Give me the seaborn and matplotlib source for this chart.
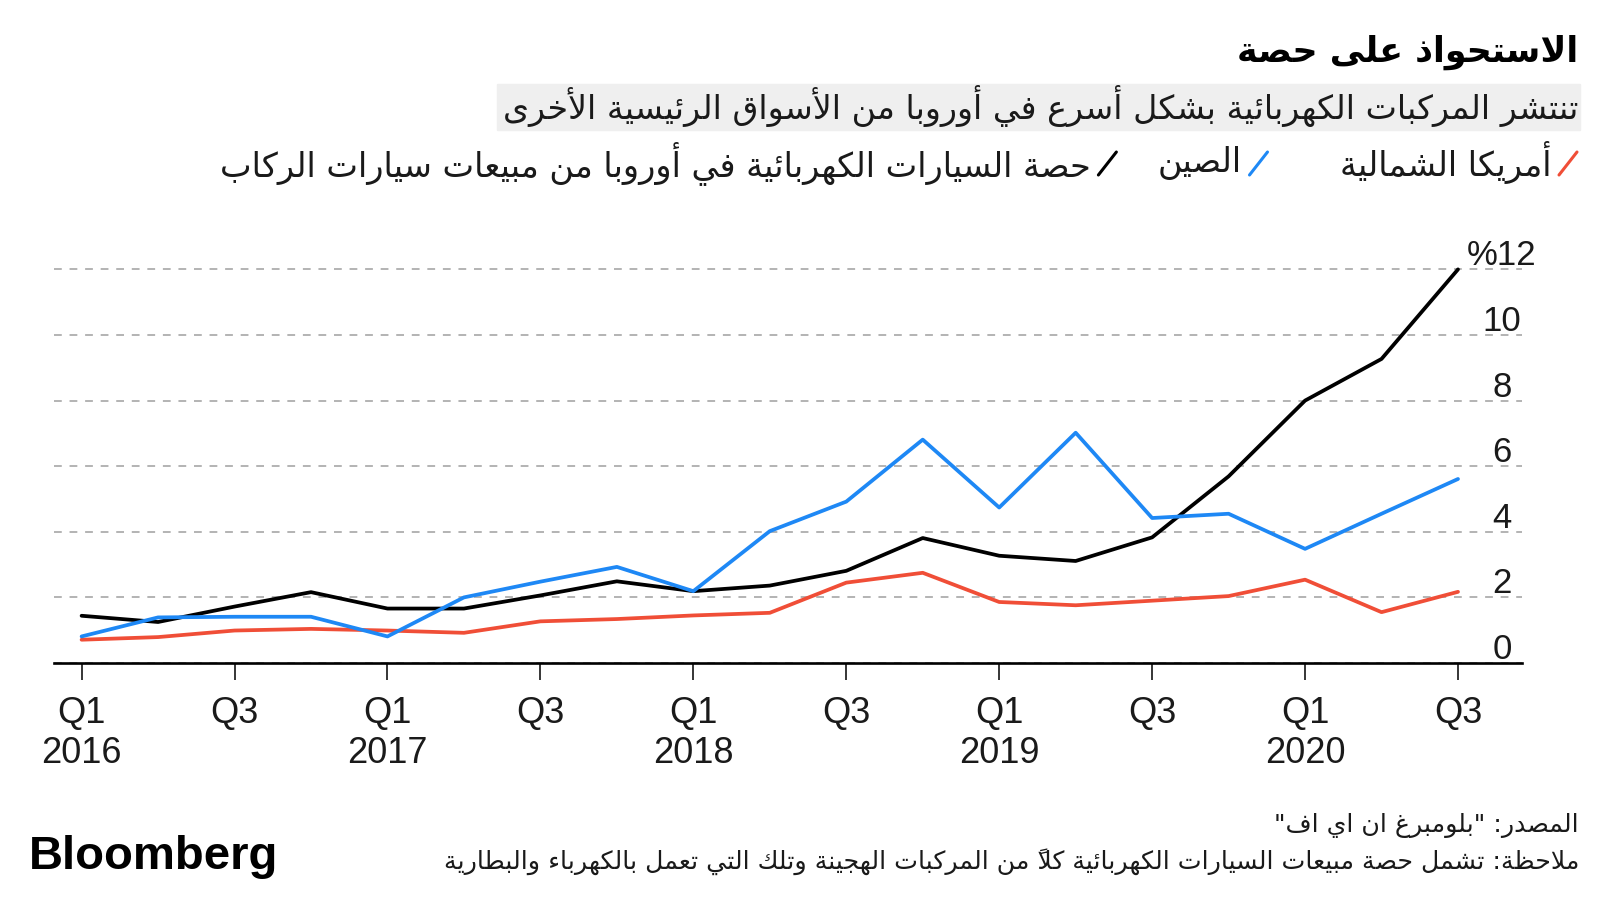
import matplotlib
matplotlib.use("Agg")
import matplotlib.pyplot as plt
import matplotlib.transforms as mtransforms
from matplotlib.lines import Line2D
from matplotlib.patches import Rectangle
import pandas as pd
import seaborn as sns

# ---------------- data ----------------
quarters = ["Q1 2016", "Q2 2016", "Q3 2016", "Q4 2016",
            "Q1 2017", "Q2 2017", "Q3 2017", "Q4 2017",
            "Q1 2018", "Q2 2018", "Q3 2018", "Q4 2018",
            "Q1 2019", "Q2 2019", "Q3 2019", "Q4 2019",
            "Q1 2020", "Q2 2020", "Q3 2020"]
europe = [1.44, 1.25, 1.72, 2.16, 1.66, 1.66, 2.06, 2.49, 2.19, 2.36,
          2.81, 3.81, 3.27, 3.11, 3.83, 5.69, 8.0, 9.27, 12.0]
china = [0.81, 1.39, 1.41, 1.41, 0.81, 2.0, 2.48, 2.93, 2.19, 4.02,
         4.92, 6.81, 4.74, 7.02, 4.42, 4.55, 3.48, 4.55, 5.61]
north_america = [0.71, 0.79, 0.99, 1.04, 0.99, 0.92, 1.27, 1.34, 1.45, 1.53,
                 2.45, 2.75, 1.86, 1.76, 1.9, 2.04, 2.54, 1.55, 2.17]
y_ticks = [0, 2, 4, 6, 8, 10, 12]

name_na = "أمريكا الشمالية"
name_cn = "الصين"
name_eu = "حصة السيارات الكهربائية في أوروبا من مبيعات سيارات الركاب"
colors = {name_na: "#f04e37", name_cn: "#1e88f5", name_eu: "#000000"}

title = "الاستحواذ على حصة"
subtitle = "تنتشر المركبات الكهربائية بشكل أسرع في أوروبا من الأسواق الرئيسية الأخرى"
source = 'المصدر: "بلومبرغ ان اي اف"'
note = "ملاحظة: تشمل حصة مبيعات السيارات الكهربائية كلاً من المركبات الهجينة وتلك التي تعمل بالكهرباء والبطارية"

# ---------------- minimal arabic shaping (no raqm in matplotlib) ----------------
# letter -> (first presentation form, number of forms): iso, fin, ini, med
AR_FORMS = {
    'ء': (0xFE80, 1), 'آ': (0xFE81, 2), 'أ': (0xFE83, 2), 'ؤ': (0xFE85, 2),
    'إ': (0xFE87, 2), 'ئ': (0xFE89, 4), 'ا': (0xFE8D, 2), 'ب': (0xFE8F, 4),
    'ة': (0xFE93, 2), 'ت': (0xFE95, 4), 'ث': (0xFE99, 4), 'ج': (0xFE9D, 4),
    'ح': (0xFEA1, 4), 'خ': (0xFEA5, 4), 'د': (0xFEA9, 2), 'ذ': (0xFEAB, 2),
    'ر': (0xFEAD, 2), 'ز': (0xFEAF, 2), 'س': (0xFEB1, 4), 'ش': (0xFEB5, 4),
    'ص': (0xFEB9, 4), 'ض': (0xFEBD, 4), 'ط': (0xFEC1, 4), 'ظ': (0xFEC5, 4),
    'ع': (0xFEC9, 4), 'غ': (0xFECD, 4), 'ف': (0xFED1, 4), 'ق': (0xFED5, 4),
    'ك': (0xFED9, 4), 'ل': (0xFEDD, 4), 'م': (0xFEE1, 4), 'ن': (0xFEE5, 4),
    'ه': (0xFEE9, 4), 'و': (0xFEED, 2), 'ى': (0xFEEF, 2), 'ي': (0xFEF1, 4),
}
LAM_ALEF = {'آ': 0xFEF5, 'أ': 0xFEF7, 'إ': 0xFEF9, 'ا': 0xFEFB}
MARKS = set(chr(c) for c in range(0x064B, 0x0653))


def join_type(b):
    if b.startswith('LA'):
        return 2
    if b in AR_FORMS:
        return AR_FORMS[b][1]
    return 0


def shape(text):
    units = []
    for ch in text:
        if ch in MARKS and units:
            units[-1][1] += ch
        else:
            units.append([ch, ''])
    merged = []
    k = 0
    while k < len(units):
        b, m = units[k]
        if b == 'ل' and k + 1 < len(units) and units[k + 1][0] in LAM_ALEF:
            merged.append(['LA' + units[k + 1][0], m + units[k + 1][1]])
            k += 2
        else:
            merged.append([b, m])
            k += 1
    res = []
    for k, (b, m) in enumerate(merged):
        t = join_type(b)
        if t == 0:
            res.append(m + b)
            continue
        prev_t = join_type(merged[k - 1][0]) if k > 0 else 0
        next_t = join_type(merged[k + 1][0]) if k + 1 < len(merged) else 0
        jp = t >= 2 and prev_t == 4
        jn = t == 4 and next_t >= 2
        if b.startswith('LA'):
            code = LAM_ALEF[b[2]] + (1 if jp else 0)
        else:
            base = AR_FORMS[b][0]
            if jp and jn:
                code = base + 3
            elif jn:
                code = base + 2
            elif jp:
                code = base + 1
            else:
                code = base
        # marks go before the base in visual order so they sit on top of it
        res.append(m + chr(code))
    return ''.join(reversed(res))


# ---------------- figure ----------------
sns.set_theme(style="white")
plt.rcParams['font.family'] = ['Liberation Sans', 'DejaVu Sans']
AR = ['DejaVu Sans']
W, H = 1600, 900

fig = plt.figure(figsize=(16, 9), dpi=100)
renderer = fig.canvas.get_renderer()


def px(x, y):
    return x / W, 1 - y / H


def fit_text(x, y, s, width_px, size, **kw):
    t = fig.text(*px(x, y), s, fontsize=size, **kw)
    w = t.get_window_extent(renderer).width
    t.set_fontsize(size * width_px / w)
    return t


ax = fig.add_axes([54 / W, 1 - 663 / H, (1522 - 54) / W, (663 - 249.7) / H])

df = pd.DataFrame({
    "idx": list(range(len(quarters))) * 3,
    "value": north_america + europe + china,
    "series": [name_na] * len(quarters) + [name_eu] * len(quarters) + [name_cn] * len(quarters),
})
sns.lineplot(data=df, x="idx", y="value", hue="series",
             hue_order=[name_na, name_eu, name_cn], palette=colors,
             linewidth=2.7, errorbar=None, legend=False, ax=ax)
for ln in ax.lines:
    ln.set_clip_on(False)

ax.set_xlim(-0.361, 18.837)
ax.set_ylim(0, 12.6)
ax.set_xlabel("")
ax.set_ylabel("")

ax.set_yticks(y_ticks)
ax.yaxis.grid(True, linestyle=(0, (4, 4)), color="#b3b3b3", linewidth=1.4)
ax.xaxis.grid(False)
ax.set_axisbelow(True)
ax.tick_params(axis="y", length=0, labelleft=False)

tick_pos = list(range(0, len(quarters), 2))
tick_lab = [q.replace(" ", "\n") if q.startswith("Q1") else q.split()[0]
            for q in [quarters[i] for i in tick_pos]]
ax.set_xticks(tick_pos)
ax.set_xticklabels(tick_lab, fontsize=26, linespacing=1.18, color="#1a1a1a")
ax.tick_params(axis="x", length=12, width=1.1, color="black", pad=12,
               direction="out", bottom=True)

for s in ["left", "right", "top"]:
    ax.spines[s].set_visible(False)
ax.spines["bottom"].set_linewidth(1.9)
ax.spines["bottom"].set_color("black")

trans = mtransforms.offset_copy(
    mtransforms.blended_transform_factory(ax.transAxes, ax.transData),
    fig=fig, y=4, units="dots")
for v in y_ticks:
    lab = "%" + str(v) if v == y_ticks[-1] else str(v)
    ax.text(0.9864, v, lab, transform=trans, ha="center", va="baseline",
            fontsize=25, color="#1a1a1a")

# ---------------- header ----------------
fit_text(1578, 52, shape(title), 341, 30, family=AR, fontweight="bold",
         ha="right", va="center", color="black")

fig.add_artist(Rectangle(px(497, 130), (1580 - 497) / W, 46 / H,
                         transform=fig.transFigure, color="#efefef", zorder=0))
fit_text(1578, 106, shape(subtitle), 1078, 24, family=AR,
         ha="right", va="center", color="#1a1a1a")

# legend, laid out right to left
leg_y = 163
eu_t = fit_text(1082, leg_y, shape(name_eu), 871, 22, family=AR,
                ha="right", va="center", color="#1a1a1a")
leg_size = eu_t.get_fontsize()
eu_t.remove()
x_right = 1577
gaps = [72, 41, 0]
for name, gap in zip([name_na, name_cn, name_eu], gaps):
    fig.add_artist(Line2D([(x_right - 18) / W, x_right / W],
                          [1 - (leg_y + 12) / H, 1 - (leg_y - 11) / H],
                          transform=fig.transFigure, color=colors[name], lw=2.2))
    t = fig.text(*px(x_right - 26, leg_y), shape(name), fontsize=leg_size,
                 family=AR, ha="right", va="center", color="#1a1a1a")
    w = t.get_window_extent(renderer).width
    x_right = x_right - 26 - w - gap

# ---------------- footer ----------------
nt = fit_text(1579, 862, shape(note), 1135, 18, family=AR,
              ha="right", va="center", color="#1a1a1a")
fig.text(*px(1579, 826), shape(source), fontsize=nt.get_fontsize(), family=AR,
         ha="right", va="center", color="#1a1a1a")
fig.text(*px(29, 857), "Bloomberg", fontsize=34, fontweight="bold",
         family="Liberation Sans", ha="left", va="center", color="black")

fig.savefig("out.png", dpi=100)
